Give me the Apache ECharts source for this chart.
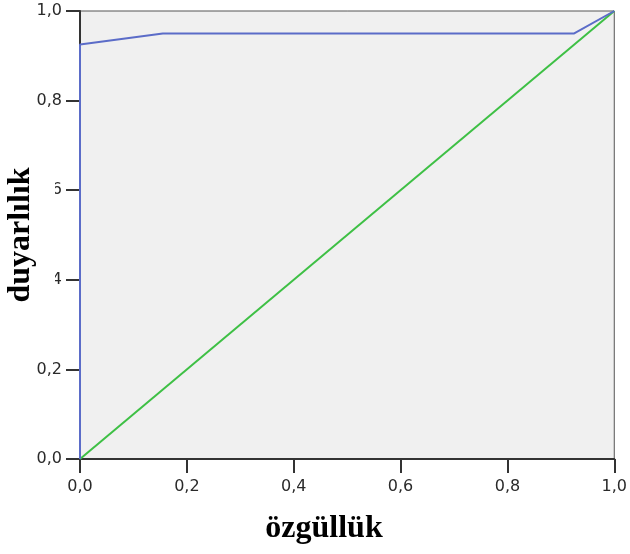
<!DOCTYPE html>
<html>
<head>
<meta charset="utf-8">
<script src="https://cdn.jsdelivr.net/npm/echarts@6/dist/echarts.min.js"></script>
<style>html,body{margin:0;padding:0;background:#fff;}#c{width:630px;height:554px;}</style>
</head>
<body>
<div id="c"></div>
<script>
// ROC curve points (1 - specificity, sensitivity)
var rocX = [0, 0, 0.155, 0.925, 1];
var rocY = [0, 0.925, 0.95, 0.95, 1];
// reference diagonal
var refX = [0, 1];
var refY = [0, 1];
var axisTicks = [0, 0.2, 0.4, 0.6, 0.8, 1.0];
var xTitle = 'özgüllük';
var yTitle = 'duyarlılık';

function fmt(v) { return v.toFixed(1).replace('.', ','); }
function pairs(xs, ys) { return xs.map(function (x, i) { return [x, ys[i]]; }); }

var chart = echarts.init(document.getElementById('c'), null, { renderer: 'canvas' });
var axisCommon = {
  type: 'value', min: axisTicks[0], max: axisTicks[axisTicks.length - 1], interval: 0.2,
  axisLine: { show: true, lineStyle: { color: '#333', width: 2 } },
  axisTick: { show: true, length: 14, lineStyle: { color: '#333', width: 2 } },
  splitLine: { show: false },
  axisLabel: { formatter: fmt, color: '#2a2a2a', fontFamily: 'DejaVu Sans', fontSize: 16 }
};
chart.setOption({
  animation: false,
  grid: { left: 80, right: 13, top: 11, bottom: 95, show: true, backgroundColor: '#f0f0f0', borderColor: '#555', borderWidth: 1 },
  xAxis: Object.assign({}, axisCommon, { axisLabel: Object.assign({}, axisCommon.axisLabel, { margin: 20 }) }),
  yAxis: Object.assign({}, axisCommon, { axisLabel: Object.assign({}, axisCommon.axisLabel, { margin: 18 }) }),
  series: [
    { type: 'line', data: pairs(refX, refY), showSymbol: false, lineStyle: { color: '#3ec045', width: 2 }, z: 2 },
    { type: 'line', data: pairs(rocX, rocY), showSymbol: false, lineStyle: { color: '#5b6cc8', width: 2 }, z: 3 }
  ],
  graphic: [
    { type: 'text', z: 100, zlevel: 1, x: 21, y: 231, rotation: Math.PI / 2,
      style: { text: yTitle, fill: '#000', font: 'bold 32px "Liberation Serif"', align: 'center', verticalAlign: 'middle',
        backgroundColor: '#fff', padding: [6, 14, 30, 6] } },
    { type: 'text', z: 100, x: 324, y: 529,
      style: { text: xTitle, fill: '#000', font: 'bold 32px "Liberation Serif"', align: 'center', verticalAlign: 'middle' } }
  ]
});
</script>
</body>
</html>
